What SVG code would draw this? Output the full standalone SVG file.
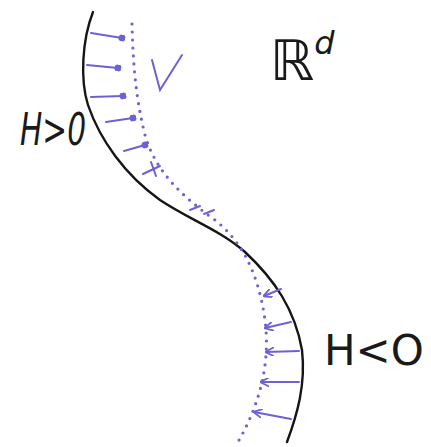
<svg xmlns="http://www.w3.org/2000/svg" width="431" height="447" viewBox="0 0 431 447">
<style>
.curve{fill:none;stroke:#151515;stroke-width:2.4;stroke-linecap:round}
.dots{fill:none;stroke:#6c62d4;stroke-width:3.2;stroke-linecap:round;stroke-dasharray:0 8}
.vec{fill:none;stroke:#6c62d4;stroke-width:2;stroke-linecap:round}
.lab{font-family:"DejaVu Sans",sans-serif;fill:#1a1a1a}
</style>
<defs>
<marker id="dot" viewBox="0 0 10 10" refX="5" refY="5" markerWidth="7" markerHeight="7" markerUnits="userSpaceOnUse" orient="auto"><circle cx="5" cy="5" r="5" fill="#6c62d4"/></marker>
<marker id="ah" viewBox="0 0 10 10" refX="9" refY="5" markerWidth="9" markerHeight="9" markerUnits="userSpaceOnUse" orient="auto"><path d="M0,0 L10,5 L0,10" fill="none" stroke="#6c62d4" stroke-width="2"/></marker>
</defs>
<rect width="431" height="447" fill="#fff"/>
<g id="surface">
<path class="curve" d="M93,12 C82,40 80,80 88,105 C100,140 125,175 160,200 C190,220 220,230 245,252 C275,280 295,310 302,350 C306,385 297,415 287,442"/>
</g>
<g id="field">
<path class="dots" d="M132,24 C133,60 135,95 145,135 C155,170 180,195 215,220 C240,240 258,270 265,320 C270,360 262,400 238,442"/>
</g>
<g id="connectors">
<path class="vec" marker-end="url(#dot)" d="M91,33 L122,38"/>
<path class="vec" marker-end="url(#dot)" d="M87,65 L118,68"/>
<path class="vec" marker-end="url(#dot)" d="M91,97 L123,96"/>
<path class="vec" marker-end="url(#dot)" d="M106,122 L133,118"/>
<path class="vec" marker-end="url(#dot)" d="M124,151 L145,145"/>
<path class="vec" d="M143,174 L160,166 M151,162 L156,176"/>
<path class="vec" d="M190,210 L200,206 M204,214 L214,210"/>
<path class="vec" marker-end="url(#ah)" d="M281,289 L264,296"/>
<path class="vec" marker-end="url(#ah)" d="M291,322 L265,328"/>
<path class="vec" marker-end="url(#ah)" d="M299,351 L266,352"/>
<path class="vec" marker-end="url(#ah)" d="M299,382 L261,382"/>
<path class="vec" marker-end="url(#ah)" d="M291,419 L254,412"/>
</g>
<g id="label-V"><path class="vec" stroke-width="2.6" d="M152,60 L160,90 L182,55"/></g>
<g id="label-Hpos"><text class="lab" x="20" y="145" font-size="44" font-style="italic" textLength="66" lengthAdjust="spacingAndGlyphs">H&gt;0</text></g>
<g id="label-Hneg"><text class="lab" x="324" y="365" font-size="42">H&lt;O</text></g>
<g id="label-Rd"><text class="lab" x="270" y="80" font-size="56" font-style="italic">ℝ<tspan font-size="32" dy="-26">d</tspan></text></g>
</svg>
